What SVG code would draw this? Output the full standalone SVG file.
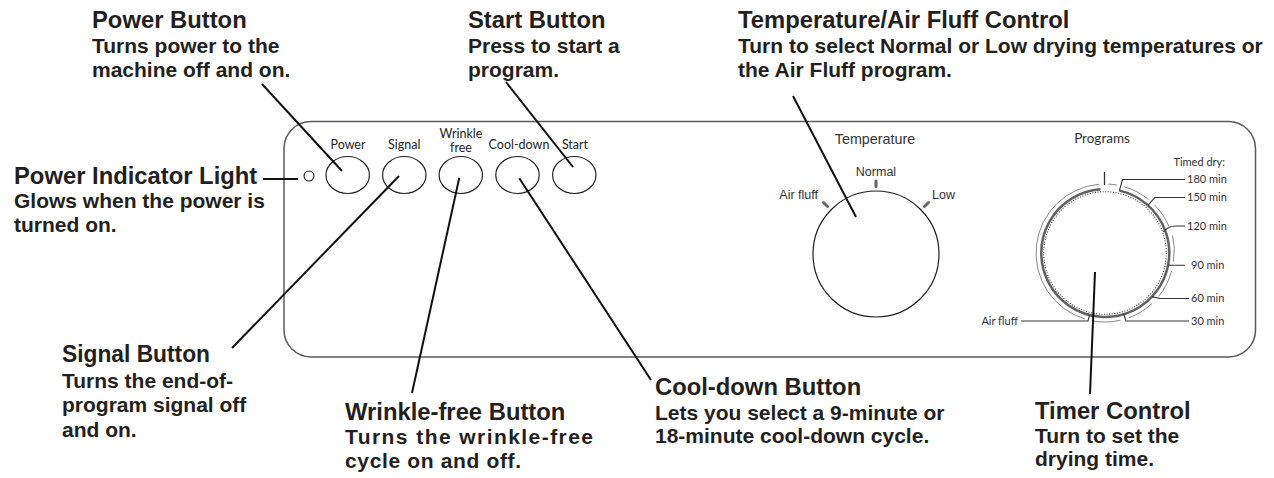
<svg xmlns="http://www.w3.org/2000/svg" width="1274" height="478" viewBox="0 0 1274 478">
<style>
.t{font-family:"Liberation Sans",Arial,sans-serif;font-weight:bold;font-size:23.8px;fill:#231f20}
.s{font-family:"Liberation Sans",Arial,sans-serif;font-weight:bold;font-size:21px;fill:#231f20}
.bl{font-family:Lato,"Open Sans",sans-serif;font-size:12.5px;fill:#231f20;text-anchor:middle}
.tl{font-family:"Liberation Sans",Arial,sans-serif;font-size:12.5px;fill:#333}
.pl{font-family:Lato,"Open Sans",sans-serif;font-size:11px;fill:#333}
.btn{fill:#fff;stroke:#231f20;stroke-width:1.2}
.conn{stroke:#111;stroke-width:2;fill:none;stroke-linecap:butt}
.tick{stroke:#666;stroke-width:3;stroke-linecap:round}
.lead{stroke:#333;stroke-width:1.1;fill:none}
.ring{stroke:#888;stroke-width:1;fill:none}
</style>
<rect id="panel" x="284" y="121.5" width="971.5" height="235.5" rx="27" fill="#fff" stroke="#5a5a5a" stroke-width="1.5"/>

<g id="indicator">
<circle cx="309" cy="176" r="5" fill="#fff" stroke="#231f20" stroke-width="1.1"/>
</g>
<g id="btn-power"><text class="bl" x="348" y="149">Power</text><ellipse class="btn" cx="347.7" cy="175" rx="21.7" ry="18.5"/></g>
<g id="btn-signal"><text class="bl" x="404.3" y="149">Signal</text><ellipse class="btn" cx="404.3" cy="175" rx="21.7" ry="18.5"/></g>
<g id="btn-wrinkle"><text class="bl" x="461" y="138">Wrinkle</text><text class="bl" x="461" y="151.5">free</text><ellipse class="btn" cx="460.8" cy="175" rx="21.7" ry="18.5"/></g>
<g id="btn-cooldown"><text class="bl" x="519" y="149">Cool-down</text><ellipse class="btn" cx="517.5" cy="175" rx="21.7" ry="18.5"/></g>
<g id="btn-start"><text class="bl" x="575" y="149">Start</text><ellipse class="btn" cx="574.3" cy="175" rx="21.7" ry="18.5"/></g>

<g id="temp-dial">
<text class="tl" x="875" y="144" text-anchor="middle" style="font-size:14.3px">Temperature</text>
<text class="tl" x="876" y="176" text-anchor="middle">Normal</text>
<text class="tl" x="818" y="198.5" text-anchor="end">Air fluff</text>
<text class="tl" x="932" y="198.5">Low</text>
<line class="tick" x1="876" y1="181" x2="876" y2="186.5"/>
<line class="tick" x1="823.5" y1="202.5" x2="827.5" y2="206.5"/>
<line class="tick" x1="928.5" y1="202.5" x2="924.5" y2="206.5"/>
<circle cx="876" cy="254" r="63" fill="#fff" stroke="#231f20" stroke-width="1.2"/>
</g>

<g id="timer-dial">
<text class="pl" x="1102" y="143" text-anchor="middle" style="font-size:13.5px">Programs</text>
<text class="pl" x="1225" y="166" text-anchor="end">Timed dry:</text>
<text class="pl" x="1187" y="183">180 min</text>
<text class="pl" x="1187" y="201">150 min</text>
<text class="pl" x="1187" y="230">120 min</text>
<text class="pl" x="1191" y="269">90 min</text>
<text class="pl" x="1191" y="302">60 min</text>
<text class="pl" x="1191" y="324.5">30 min</text>
<text class="pl" x="1018" y="324.5" text-anchor="end">Air fluff</text>
<line x1="1104.5" y1="172" x2="1104.5" y2="185" stroke="#333" stroke-width="1.3"/>
<circle cx="1105" cy="253" r="61.3" fill="none" stroke="#333" stroke-width="1.1" stroke-dasharray="1 1.6"/>
<path d="M1119.4 190.6 A64 64 0 1 1 1100.5 189.2" fill="none" stroke="#616161" stroke-width="2.5"/>
<path class="ring" d="M1108.61 184.09 A69 69 0 0 1 1116.98 185.05 M1124.02 186.67 A69 69 0 0 1 1148.42 199.38 M1154.63 205.06 A69 69 0 0 1 1168.9 226.4 M1172.6 235.3 A69 69 0 0 1 1173.48 261.41 M1171.65 270.86 A69 69 0 0 1 1158.62 296.42 M1152.06 303.47 A69 69 0 0 1 1128.6 317.84 M1120.53 320.23 A69 69 0 0 1 1091.83 320.73 M1084.83 318.98 A69 69 0 0 1 1098.98 184.26"/>
<path class="lead" d="M1119.4 190.6 L1122.5 179.5 H1185 M1147.8 205.4 L1155 197.5 H1185 M1163.2 232 Q1168 226 1176 226 H1185 M1167.8 265.2 H1185 M1151.8 296.6 L1160 298.5 H1189 M1123.7 314.2 L1126 321 H1189 M1089.5 315.1 L1088 321 H1021"/>
</g>

<g id="callout-power">
<text class="t" x="92" y="28">Power Button</text>
<text class="s" x="92" y="53">Turns power to the</text>
<text class="s" x="92" y="77">machine off and on.</text>
</g>
<g id="callout-start">
<text class="t" x="468" y="28">Start Button</text>
<text class="s" x="468" y="53">Press to start a</text>
<text class="s" x="468" y="77">program.</text>
</g>
<g id="callout-temp">
<text class="t" x="738" y="28">Temperature/Air Fluff Control</text>
<text class="s" x="738" y="53">Turn to select Normal or Low drying temperatures or</text>
<text class="s" x="738" y="77">the Air Fluff program.</text>
</g>
<g id="callout-indicator">
<text class="t" x="14" y="184">Power Indicator Light</text>
<text class="s" x="14" y="208">Glows when the power is</text>
<text class="s" x="14" y="232">turned on.</text>
</g>
<g id="callout-signal">
<text class="t" x="62" y="362" textLength="148" lengthAdjust="spacingAndGlyphs">Signal Button</text>
<text class="s" x="62" y="388">Turns the end-of-</text>
<text class="s" x="62" y="412">program signal off</text>
<text class="s" x="62" y="437">and on.</text>
</g>
<g id="callout-wrinkle">
<text class="t" x="345" y="420">Wrinkle-free Button</text>
<text class="s" x="345" y="444" textLength="248" lengthAdjust="spacing">Turns the wrinkle-free</text>
<text class="s" x="345" y="468" textLength="176" lengthAdjust="spacing">cycle on and off.</text>
</g>
<g id="callout-cooldown">
<text class="t" x="655" y="395">Cool-down Button</text>
<text class="s" x="655" y="420">Lets you select a 9-minute or</text>
<text class="s" x="655" y="443">18-minute cool-down cycle.</text>
</g>
<g id="callout-timer">
<text class="t" x="1035" y="419">Timer Control</text>
<text class="s" x="1035" y="443">Turn to set the</text>
<text class="s" x="1035" y="466">drying time.</text>
</g>

<g id="connectors">
<line class="conn" x1="263" y1="179" x2="298" y2="179"/>
<line class="conn" x1="262" y1="84" x2="342" y2="171"/>
<line class="conn" x1="506" y1="82" x2="573" y2="167"/>
<line class="conn" x1="793" y1="96" x2="856" y2="217"/>
<line class="conn" x1="232" y1="348" x2="399" y2="176"/>
<line class="conn" x1="412" y1="393" x2="459.3" y2="177.7"/>
<line class="conn" x1="651" y1="380" x2="519.3" y2="178.3"/>
<line class="conn" x1="1090" y1="394" x2="1095" y2="272"/>
</g>
</svg>
